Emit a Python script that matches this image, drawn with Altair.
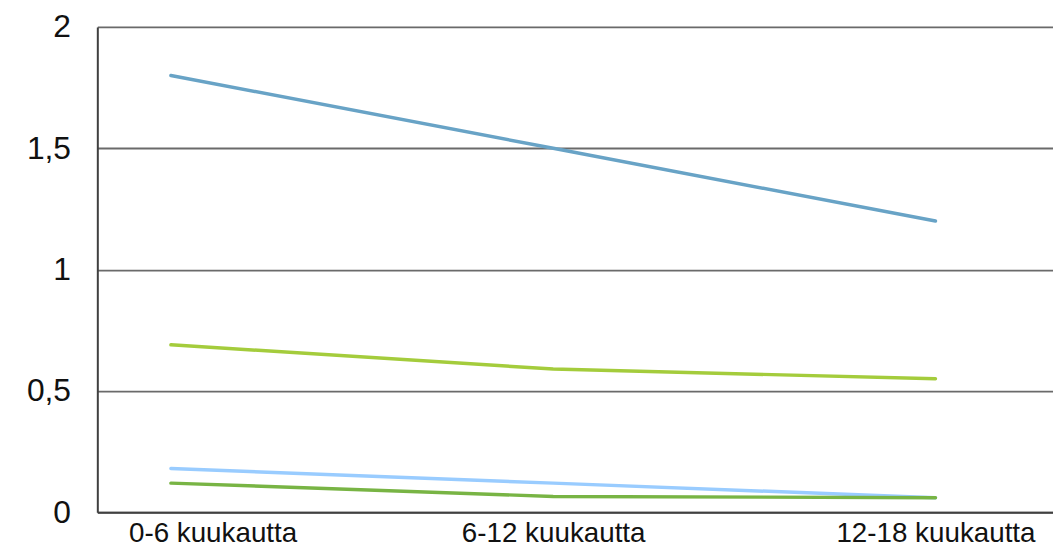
import altair as alt
import pandas as pd

categories = ["0-6 kuukautta", "6-12 kuukautta", "12-18 kuukautta"]
series_names = ["Sarja 1", "Sarja 2", "Sarja 3", "Sarja 4"]
series_values = [
    [1.8, 1.5, 1.2],
    [0.69, 0.59, 0.55],
    [0.18, 0.12, 0.06],
    [0.12, 0.065, 0.06],
]
series_colors = ["#68a3c6", "#a4cc3c", "#99ccff", "#78b444"]

rows = []
for name, vals in zip(series_names, series_values):
    for i, (c, v) in enumerate(zip(categories, vals)):
        rows.append({"jakso": c, "sarja": name, "arvo": v, "order": i})
df = pd.DataFrame(rows)

chart = alt.Chart(df).mark_line(strokeWidth=3.5, strokeCap="round").encode(
    x=alt.X(
        "jakso:O",
        sort=categories,
        scale=alt.Scale(type="point", padding=0.25, align=0.385),
        axis=alt.Axis(
            title=None,
            labelAngle=0,
            labelFont="Liberation Sans",
            labelFontSize=28,
            labelLimit=0,
            labelColor="#111111",
            labelPadding=7,
            labelOffset={"condition": {"test": "datum.value === '0-6 kuukautta'", "value": 42}, "value": 0},
            ticks=False,
            domainColor="#404040",
            domainWidth=2,
            grid=False,
        ),
    ),
    y=alt.Y(
        "arvo:Q",
        scale=alt.Scale(domain=[0, 2], nice=False),
        axis=alt.Axis(
            title=None,
            values=[0, 0.5, 1, 1.5, 2],
            labelExpr="replace(format(datum.value, ''), '.', ',')",
            labelFont="Liberation Sans",
            labelFontSize=32,
            labelColor="#111111",
            labelPadding=27,
            ticks=False,
            domainColor="#404040",
            domainWidth=2,
            gridColor="#6a6a6a",
            gridWidth=1.8,
            gridOpacity=1,
        ),
    ),
    color=alt.Color(
        "sarja:N",
        scale=alt.Scale(domain=series_names, range=series_colors),
        legend=None,
    ),
    order="order:Q",
).properties(
    width=963,
    height=489,
    autosize=alt.AutoSizeParams(type="none"),
    padding={"left": 90, "top": 17, "right": 0, "bottom": 40},
).configure_view(stroke=None).configure(background="white")

chart.save("out.html", embed_options={"renderer": "svg", "actions": False})
